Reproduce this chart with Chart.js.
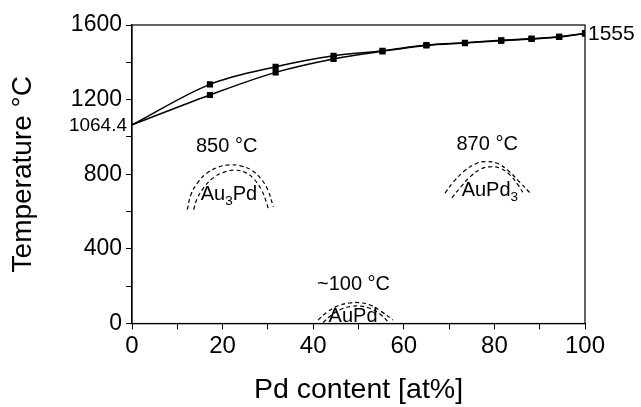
<!DOCTYPE html>
<html>
<head>
<title>Au-Pd phase diagram</title>
<script src="https://cdn.jsdelivr.net/npm/chart.js"></script>
<style>
  body { margin: 0; background: #fff; }
  #wrap { width: 641px; height: 407px; }
</style>
</head>
<body>
<div id="wrap"><canvas id="chart"></canvas></div>
<script>
// liquidus / solidus (Pd at%, °C)
const liqX = [0, 17.2, 31.7, 44.5, 55.3, 65, 73.5, 81.5, 88.2, 94.3, 100];
const liqT = [1064.4, 1282, 1376, 1435, 1462, 1493, 1505, 1518, 1527, 1537, 1555];
const solX = [0, 17.2, 31.7, 44.5, 55.3, 65, 73.5, 81.5, 88.2, 94.3, 100];
const solT = [1064.4, 1225, 1346, 1418, 1459, 1490, 1503, 1516, 1525, 1536, 1555];

// ordering domes (dashed)
const au3pdOutX = [12.2, 13, 14.5, 16.5, 19, 21.5, 24, 26.5, 28.5, 30, 31.2];
const au3pdOutT = [610, 690, 755, 805, 838, 850, 845, 820, 775, 715, 625];
const au3pdInX = [13.6, 14.4, 15.9, 18, 20.5, 22.5, 25, 27, 28.6, 29.6, 30.1];
const au3pdInT = [610, 670, 730, 782, 813, 822, 810, 772, 715, 655, 615];

const aupd3OutX = [69.1, 71, 73.5, 76, 78, 80.5, 83, 85.5, 87.9];
const aupd3OutT = [699, 760, 820, 858, 868, 860, 820, 760, 699];
const aupd3InX = [70.6, 72.5, 74.8, 77, 79, 81.3, 83.5, 85.3, 86.6];
const aupd3InT = [673, 730, 790, 828, 840, 832, 795, 740, 690];

const aupdOutX = [41.1, 43, 45.5, 48, 50, 52.5, 55, 57.6];
const aupdOutT = [19, 60, 95, 110, 112, 100, 65, 19];
const aupdInX = [42.2, 44, 46.3, 48.5, 50.3, 52.5, 54.8, 56.5];
const aupdInT = [5, 45, 78, 92, 93, 82, 50, 10];

const xTicks = [0, 20, 40, 60, 80, 100];
const yTicks = [0, 400, 800, 1200, 1600];

const FONT = "'Liberation Sans', Arial, sans-serif";

function pts(xs, ys) { return xs.map((x, i) => ({ x: x, y: ys[i] })); }

function curve(xs, ys) {
  return {
    data: pts(xs, ys), borderColor: '#000', borderWidth: 1.5,
    backgroundColor: '#000', pointStyle: 'rect',
    pointRadius: c => c.dataIndex === 0 ? 0 : 3.3,
    cubicInterpolationMode: 'monotone', fill: false
  };
}
function dome(xs, ys) {
  return {
    data: pts(xs, ys), borderColor: '#000', borderWidth: 1.2,
    borderDash: [4, 3], pointRadius: 0, tension: 0.4, fill: false
  };
}

// text with subscripts: parts = [[text, isSub], ...]
function drawParts(ctx, parts, cx, cy, size) {
  let w = 0;
  parts.forEach(p => {
    ctx.font = (p[1] ? size * 0.68 : size) + 'px ' + FONT;
    w += ctx.measureText(p[0]).width;
  });
  let x = cx - w / 2;
  ctx.textAlign = 'left';
  ctx.textBaseline = 'middle';
  parts.forEach(p => {
    ctx.font = (p[1] ? size * 0.68 : size) + 'px ' + FONT;
    ctx.fillText(p[0], x, p[1] ? cy + size * 0.32 : cy);
    x += ctx.measureText(p[0]).width;
  });
}

const extras = {
  id: 'extras',
  afterDraw(chart) {
    const ctx = chart.ctx, a = chart.chartArea;
    const xs = chart.scales.x, ys = chart.scales.y;
    const px = v => xs.getPixelForValue(v), py = v => ys.getPixelForValue(v);
    ctx.save();
    ctx.strokeStyle = '#000';
    ctx.lineWidth = 1.2;
    ctx.strokeRect(a.left, a.top, a.right - a.left, a.bottom - a.top);
    ctx.fillStyle = '#000';

    drawParts(ctx, [['850 °C']], px(20.9), py(951), 20);
    drawParts(ctx, [['Au'], ['3', true], ['Pd']], px(21.4), py(690), 20);
    drawParts(ctx, [['870 °C']], px(78.4), py(959), 20);
    drawParts(ctx, [['AuPd'], ['3', true]], px(79), py(712), 20);
    drawParts(ctx, [['~100 °C']], px(48.9), py(209), 20);

    ctx.save();
    ctx.beginPath();
    ctx.rect(a.left, a.top, a.right - a.left, a.bottom - a.top);
    ctx.clip();
    drawParts(ctx, [['AuPd']], px(48.8), py(40), 20);
    ctx.restore();

    ctx.font = '21px ' + FONT;
    ctx.textAlign = 'left';
    ctx.textBaseline = 'middle';
    ctx.fillText('1555', a.right + 3, py(1555) + 1);

    ctx.font = '19px ' + FONT;
    ctx.textAlign = 'right';
    ctx.fillText('1064.4', a.left - 5, py(1064.4) + 1);
    ctx.restore();
  }
};

new Chart(document.getElementById('chart'), {
  type: 'scatter',
  data: {
    datasets: [
      curve(liqX, liqT), curve(solX, solT),
      dome(au3pdOutX, au3pdOutT), dome(au3pdInX, au3pdInT),
      dome(aupd3OutX, aupd3OutT), dome(aupd3InX, aupd3InT),
      dome(aupdOutX, aupdOutT), dome(aupdInX, aupdInT)
    ].map(d => Object.assign(d, { type: 'line', showLine: true }))
  },
  options: {
    responsive: true, maintainAspectRatio: false, animation: false,
    layout: { padding: { left: 0, top: 25, right: 56, bottom: 0 } },
    plugins: { legend: { display: false }, tooltip: { enabled: false } },
    scales: {
      x: {
        type: 'linear', min: 0, max: 100,
        afterFit: s => { s.height = 83.5; },
        ticks: {
          stepSize: 10, autoSkip: false, maxRotation: 0, color: '#000', padding: 2,
          font: { family: FONT, size: 24 },
          callback: v => xTicks.includes(v) ? v : ''
        },
        grid: { drawOnChartArea: false, color: '#000', tickLength: 6 },
        border: { color: '#000', width: 1.2 },
        title: {
          display: true, text: 'Pd content [at%]', color: '#000',
          font: { family: FONT, size: 28.5 }, padding: { top: 4, bottom: 0 }
        }
      },
      y: {
        min: 0, max: 1600,
        afterFit: s => { s.width = 132; },
        ticks: {
          stepSize: 200, autoSkip: false, color: '#000', padding: 4,
          font: { family: FONT, size: 23 },
          callback: v => yTicks.includes(v) ? v : ''
        },
        grid: { drawOnChartArea: false, color: '#000', tickLength: 6 },
        border: { color: '#000', width: 1.2 },
        title: {
          display: true, text: 'Temperature °C', color: '#000',
          font: { family: FONT, size: 28 }, padding: { top: 6, bottom: 4 }
        }
      }
    }
  },
  plugins: [extras]
});
</script>
</body>
</html>
